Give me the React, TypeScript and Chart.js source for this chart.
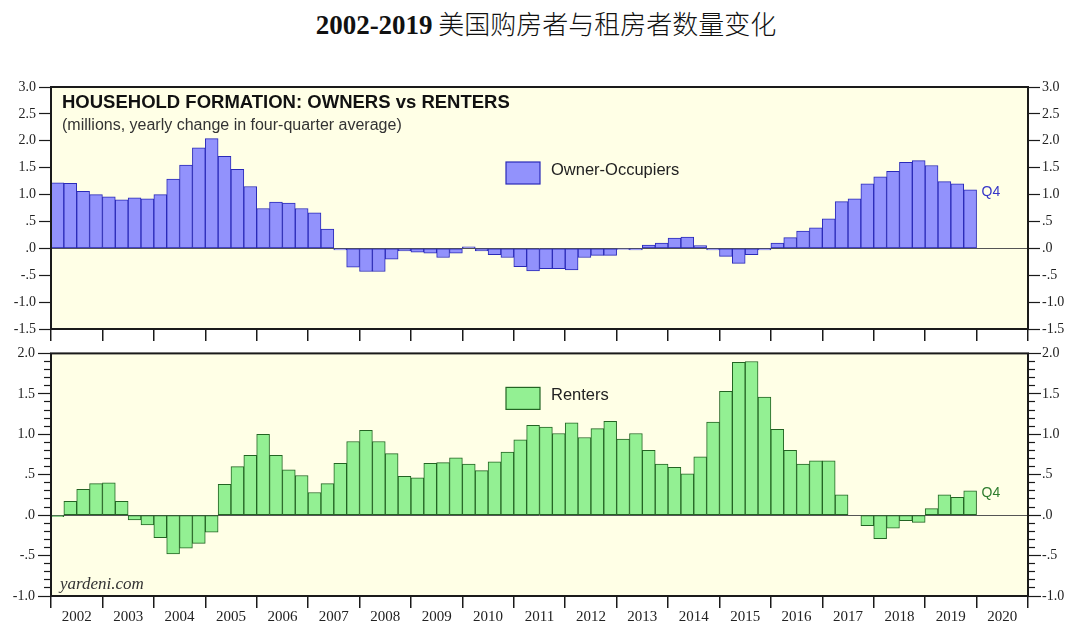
import React, { useEffect, useRef } from 'react';
import { Chart, registerables } from 'chart.js';

Chart.register(...registerables);

// ---------- data ----------
const YEARS = ['2002', '2003', '2004', '2005', '2006', '2007', '2008', '2009', '2010', '2011',
  '2012', '2013', '2014', '2015', '2016', '2017', '2018', '2019', '2020'];
const QUARTERS = ['Q1', 'Q2', 'Q3', 'Q4'];
const QUARTER_LABELS = YEARS.flatMap((y) => QUARTERS.map((q) => `${y} ${q}`));

// Owner-occupiers, millions, yearly change in four-quarter average (2002Q1..2019Q4)
const OWNERS = [
  1.22, 1.21, 1.06, 1.00,
  0.96, 0.90, 0.94, 0.92,
  1.00, 1.29, 1.55, 1.87,
  2.04, 1.71, 1.47, 1.15,
  0.74, 0.86, 0.84, 0.74,
  0.66, 0.36, -0.03, -0.35,
  -0.43, -0.43, -0.20, -0.05,
  -0.07, -0.09, -0.17, -0.09,
  0.03, -0.05, -0.12, -0.17,
  -0.34, -0.42, -0.38, -0.38,
  -0.40, -0.17, -0.13, -0.13,
  -0.02, -0.03, 0.06, 0.10,
  0.19, 0.21, 0.05, -0.03,
  -0.15, -0.28, -0.12, -0.03,
  0.10, 0.20, 0.32, 0.38,
  0.55, 0.87, 0.92, 1.20,
  1.33, 1.43, 1.60, 1.63,
  1.54, 1.24, 1.20, 1.09,
];

// Renters (2002Q1..2019Q4)
const RENTERS = [
  -0.02, 0.17, 0.32, 0.39,
  0.40, 0.17, -0.06, -0.12,
  -0.28, -0.48, -0.41, -0.35,
  -0.21, 0.38, 0.60, 0.74,
  1.00, 0.74, 0.56, 0.49,
  0.28, 0.39, 0.64, 0.91,
  1.05, 0.91, 0.76, 0.48,
  0.46, 0.64, 0.65, 0.71,
  0.63, 0.55, 0.66, 0.78,
  0.93, 1.11, 1.09, 1.01,
  1.14, 0.96, 1.07, 1.16,
  0.94, 1.01, 0.80, 0.63,
  0.59, 0.51, 0.72, 1.15,
  1.53, 1.89, 1.90, 1.46,
  1.06, 0.80, 0.63, 0.67,
  0.67, 0.25, 0.00, -0.13,
  -0.29, -0.16, -0.07, -0.09,
  0.08, 0.25, 0.22, 0.30,
];

const OWNER_RANGE = [-1.5, 3.0];
const RENTER_RANGE = [-1.0, 2.0];
const MAJOR_STEP = 0.5;
const MINOR_STEP = 0.1;

const HEADING = 'HOUSEHOLD FORMATION: OWNERS vs RENTERS';
const SUBHEADING = '(millions, yearly change in four-quarter average)';
const OWNER_LABEL = 'Owner-Occupiers';
const RENTER_LABEL = 'Renters';
const LAST_LABEL = 'Q4';
const SOURCE = 'yardeni.com';

// ---------- styles ----------
const SERIF = '"Liberation Serif", "Times New Roman", serif';
const SANS = '"Liberation Sans", Arial, Helvetica, sans-serif';
const PANEL_BG = '#FFFFE6';
const AXIS_COLOR = '#1a1a1a';
const OWNER_FILL = '#9292FC';
const OWNER_EDGE = '#2A2AB8';
const RENTER_FILL = '#93F093';
const RENTER_EDGE = '#236423';

const fmt = (v: number) => {
  const r = Math.round(v * 10) / 10;
  let s = Math.abs(r).toFixed(1);
  if (s.startsWith('0')) s = s.slice(1);
  return (r < 0 ? '-' : '') + s;
};

function yAxis(o: {
  position: 'left' | 'right'; min: number; max: number; step: number; width: number;
  tickLength: number; padding: number; weight: number; labels: boolean; zero: boolean;
}) {
  return {
    type: 'linear',
    axis: 'y',
    position: o.position,
    min: o.min,
    max: o.max,
    weight: o.weight,
    afterFit: (s: any) => { s.width = o.width; },
    ticks: {
      stepSize: o.step,
      display: o.labels,
      autoSkip: false,
      font: { family: SERIF, size: 14 },
      color: '#222',
      padding: o.padding,
      callback: (v: any) => fmt(Number(v)),
    },
    grid: {
      drawOnChartArea: o.zero,
      color: (c: any) => (c.tick && Math.abs(c.tick.value) < 1e-9 ? '#555' : 'rgba(0,0,0,0)'),
      tickColor: AXIS_COLOR,
      tickLength: o.tickLength,
      lineWidth: 1,
      tickWidth: 1.2,
    },
    border: { display: false },
  };
}

function yearAxis(height: number, labels: boolean) {
  return {
    type: 'category',
    axis: 'x',
    position: 'bottom',
    labels: YEARS,
    offset: true,
    afterFit: (s: any) => { s.height = height; },
    grid: {
      offset: true,
      drawOnChartArea: false,
      color: AXIS_COLOR,
      tickLength: 12,
      lineWidth: 1.5,
    },
    ticks: {
      display: labels,
      autoSkip: false,
      maxRotation: 0,
      padding: 0,
      font: { family: SERIF, size: 15 },
      color: '#222',
    },
    border: { display: false },
  };
}

type Decor = {
  legendText: string;
  legendTop: number;
  fill: string;
  edge: string;
  qColor: string;
  heading: boolean;
  source: boolean;
};

function decorPlugin(d: Decor) {
  return {
    id: 'decor',
    beforeDraw(chart: any) {
      const { ctx, chartArea: a } = chart;
      ctx.save();
      ctx.fillStyle = PANEL_BG;
      ctx.fillRect(a.left, a.top, a.right - a.left, a.bottom - a.top);
      ctx.restore();
    },
    afterDraw(chart: any) {
      const { ctx, chartArea: a } = chart;
      ctx.save();
      // frame
      ctx.strokeStyle = AXIS_COLOR;
      ctx.lineWidth = 2;
      ctx.strokeRect(a.left, a.top, a.right - a.left, a.bottom - a.top);

      // heading
      if (d.heading) {
        ctx.fillStyle = '#111';
        ctx.textBaseline = 'alphabetic';
        ctx.textAlign = 'left';
        ctx.font = `bold 18.5px ${SANS}`;
        ctx.fillText(HEADING, a.left + 11, a.top + 21);
        ctx.fillStyle = '#333';
        ctx.font = `16px ${SANS}`;
        ctx.fillText(SUBHEADING, a.left + 11, a.top + 43);
      }

      // legend
      const bx = a.left + 455;
      const by = a.top + d.legendTop;
      ctx.fillStyle = d.fill;
      ctx.fillRect(bx, by, 34, 22);
      ctx.strokeStyle = d.edge;
      ctx.lineWidth = 1.2;
      ctx.strokeRect(bx, by, 34, 22);
      ctx.fillStyle = '#222';
      ctx.font = `16.5px ${SANS}`;
      ctx.textAlign = 'left';
      ctx.textBaseline = 'middle';
      ctx.fillText(d.legendText, bx + 45, by + 8);

      // last-quarter label
      const meta = chart.getDatasetMeta(0);
      const last = meta.data[meta.data.length - 1];
      if (last) {
        const p = last.getProps(['x', 'y', 'width'], true);
        ctx.fillStyle = d.qColor;
        ctx.font = `14px ${SANS}`;
        ctx.textBaseline = 'middle';
        ctx.fillText(LAST_LABEL, p.x + p.width / 2 + 5, p.y + 2);
      }

      // source
      if (d.source) {
        ctx.fillStyle = '#333';
        ctx.font = `italic 17px ${SERIF}`;
        ctx.textBaseline = 'alphabetic';
        ctx.fillText(SOURCE, a.left + 9, a.bottom - 7);
      }
      ctx.restore();
    },
  };
}

export default function App() {
  const topRef = useRef<HTMLCanvasElement>(null);
  const botRef = useRef<HTMLCanvasElement>(null);

  useEffect(() => {
    const charts: Chart[] = [];
    const dataset = (data: number[], fill: string, edge: string) => ({
      data,
      backgroundColor: fill,
      borderColor: edge,
      borderWidth: 1,
      borderSkipped: false,
      barPercentage: 1,
      categoryPercentage: 1,
      xAxisID: 'x',
      yAxisID: 'y',
    });
    const common = {
      responsive: false,
      animation: false,
      events: [],
      plugins: { legend: { display: false }, title: { display: false }, tooltip: { enabled: false } },
    };

    if (topRef.current) {
      charts.push(new Chart(topRef.current, {
        type: 'bar',
        data: { labels: QUARTER_LABELS, datasets: [dataset(OWNERS, OWNER_FILL, OWNER_EDGE) as any] },
        options: {
          ...common,
          layout: { padding: { top: 27, left: 0, right: 0, bottom: 0 } },
          scales: {
            x: { type: 'category', display: false, offset: true },
            years: yearAxis(13, false),
            y: yAxis({ position: 'left', min: OWNER_RANGE[0], max: OWNER_RANGE[1], step: MAJOR_STEP, width: 51, tickLength: 12, padding: 3, weight: 0, labels: true, zero: true }),
            yR: yAxis({ position: 'right', min: OWNER_RANGE[0], max: OWNER_RANGE[1], step: MAJOR_STEP, width: 52, tickLength: 12, padding: 2, weight: 0, labels: true, zero: false }),
          },
        } as any,
        plugins: [decorPlugin({ legendText: OWNER_LABEL, legendTop: 75, fill: OWNER_FILL, edge: OWNER_EDGE, qColor: '#3535C8', heading: true, source: false })],
      }));
    }

    if (botRef.current) {
      charts.push(new Chart(botRef.current, {
        type: 'bar',
        data: { labels: QUARTER_LABELS, datasets: [dataset(RENTERS, RENTER_FILL, RENTER_EDGE) as any] },
        options: {
          ...common,
          layout: { padding: { top: 10, left: 0, right: 0, bottom: 0 } },
          scales: {
            x: { type: 'category', display: false, offset: true },
            years: yearAxis(28, true),
            y: yAxis({ position: 'left', min: RENTER_RANGE[0], max: RENTER_RANGE[1], step: MINOR_STEP, width: 7, tickLength: 7, padding: 0, weight: 0, labels: false, zero: true }),
            yMajor: yAxis({ position: 'left', min: RENTER_RANGE[0], max: RENTER_RANGE[1], step: MAJOR_STEP, width: 44, tickLength: 6, padding: 3, weight: 1, labels: true, zero: false }),
            yR: yAxis({ position: 'right', min: RENTER_RANGE[0], max: RENTER_RANGE[1], step: MINOR_STEP, width: 7, tickLength: 7, padding: 0, weight: 0, labels: false, zero: false }),
            yRMajor: yAxis({ position: 'right', min: RENTER_RANGE[0], max: RENTER_RANGE[1], step: MAJOR_STEP, width: 45, tickLength: 6, padding: 1, weight: 1, labels: true, zero: false }),
          },
        } as any,
        plugins: [decorPlugin({ legendText: RENTER_LABEL, legendTop: 34, fill: RENTER_FILL, edge: RENTER_EDGE, qColor: '#2E7D2E', heading: false, source: true })],
      }));
    }
    return () => charts.forEach((c) => c.destroy());
  }, []);

  return (
    <div style={{ position: 'fixed', left: 0, top: 0, width: 1080, height: 624, background: '#fff', overflow: 'hidden' }}>
      <div style={{ position: 'absolute', left: 6, top: 6, width: 1080, textAlign: 'center', fontSize: 26, lineHeight: '34px', color: '#111', whiteSpace: 'nowrap' }}>
        <span style={{ fontFamily: SERIF, fontWeight: 'bold', fontSize: 27 }}>2002-2019</span>
        <span style={{ fontFamily: '"Noto Sans CJK SC", sans-serif', fontWeight: 300 }}> 美国购房者与租房者数量变化</span>
      </div>
      <canvas ref={topRef} width={1080} height={282} style={{ position: 'absolute', left: 0, top: 60, width: 1080, height: 282 }} />
      <canvas ref={botRef} width={1080} height={282} style={{ position: 'absolute', left: 0, top: 342, width: 1080, height: 282 }} />
    </div>
  );
}
